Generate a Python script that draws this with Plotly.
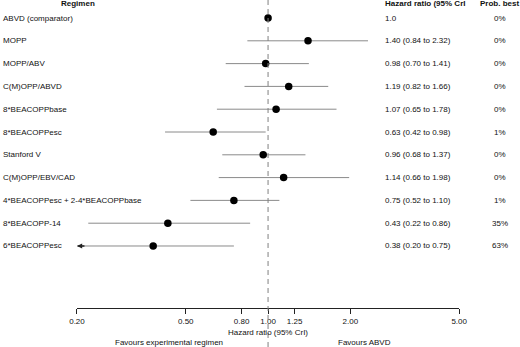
import math
import plotly.graph_objects as go

regimens = ["ABVD (comparator)", "MOPP", "MOPP/ABV", "C(M)OPP/ABVD", "8*BEACOPPbase",
            "8*BEACOPPesc", "Stanford V", "C(M)OPP/EBV/CAD",
            "4*BEACOPPesc + 2-4*BEACOPPbase", "8*BEACOPP-14", "6*BEACOPPesc"]
hr = [1.0, 1.40, 0.98, 1.19, 1.07, 0.63, 0.96, 1.14, 0.75, 0.43, 0.38]
lower = [None, 0.84, 0.70, 0.82, 0.65, 0.42, 0.68, 0.66, 0.52, 0.22, 0.20]
upper = [None, 2.32, 1.41, 1.66, 1.78, 0.98, 1.37, 1.98, 1.10, 0.86, 0.75]
hr_labels = ["1.0", "1.40 (0.84 to 2.32)", "0.98 (0.70 to 1.41)", "1.19 (0.82 to 1.66)",
             "1.07 (0.65 to 1.78)", "0.63 (0.42 to 0.98)", "0.96 (0.68 to 1.37)",
             "1.14 (0.66 to 1.98)", "0.75 (0.52 to 1.10)", "0.43 (0.22 to 0.86)",
             "0.38 (0.20 to 0.75)"]
prob_best = ["0%", "0%", "0%", "0%", "0%", "1%", "0%", "0%", "1%", "35%", "63%"]
arrow_rows = [10]  # lower CI truncated at axis limit
tick_vals = [0.20, 0.50, 0.80, 1.00, 1.25, 2.00, 5.00]
tick_text = ["0.20", "0.50", "0.80", "1.00", "1.25", "2.00", "5.00"]
x_min, x_max = 0.20, 5.00
ref_value = 1.0

FONT = "Liberation Sans, Arial, sans-serif"
rows = list(range(len(regimens)))

# whiskers
wx, wy = [], []
for i in rows:
    if lower[i] is None:
        continue
    wx += [lower[i], upper[i], None]
    wy += [i, i, None]

fig = go.Figure()
fig.add_trace(go.Scatter(x=wx, y=wy, mode="lines",
                         line=dict(color="#8a8a8a", width=1), hoverinfo="skip",
                         showlegend=False))
fig.add_trace(go.Scatter(x=hr, y=rows, mode="markers",
                         marker=dict(color="black", size=7.5), showlegend=False))

fig.add_shape(type="line", x0=ref_value, x1=ref_value, xref="x", y0=0, y1=1, yref="paper",
              line=dict(color="#808080", width=1, dash="5px,4px"))

ann = []
for i in arrow_rows:
    ann.append(dict(x=math.log10(lower[i]), y=i, xref="x", yref="y", ax=9, ay=0,
                    text="", showarrow=True,
                    arrowhead=2, arrowsize=0.8, arrowwidth=1.3, arrowcolor="#222222"))

f = dict(family=FONT, size=8, color="#111111")
fb = dict(family=FONT, size=8, color="#111111", weight="bold")
for i in rows:
    ann.append(dict(x=0.002, xref="paper", y=i, yref="y", text=regimens[i],
                    xanchor="left", yanchor="middle", showarrow=False, font=f))
    ann.append(dict(x=0.7365, xref="paper", y=i, yref="y", text=hr_labels[i],
                    xanchor="left", yanchor="middle", showarrow=False, font=f))
    ann.append(dict(x=0.961, xref="paper", y=i, yref="y", text=prob_best[i],
                    xanchor="center", yanchor="middle", showarrow=False, font=f))

ann.append(dict(x=0.15, xref="paper", y=-0.62, yref="y", text="Regimen",
                xanchor="center", yanchor="middle", showarrow=False, font=fb))
ann.append(dict(x=0.7365, xref="paper", y=-0.62, yref="y", text="Hazard ratio (95% CrI",
                xanchor="left", yanchor="middle", showarrow=False, font=fb))
ann.append(dict(x=0.961, xref="paper", y=-0.62, yref="y", text="Prob. best",
                xanchor="center", yanchor="middle", showarrow=False, font=fb))

ann.append(dict(x=math.log10(ref_value), xref="x", y=0.0432, yref="paper",
                text="Hazard ratio (95% CrI)", showarrow=False, font=f,
                xanchor="center", yanchor="middle"))
ann.append(dict(x=0.325, xref="paper", y=0.0130, yref="paper",
                text="Favours experimental regimen", showarrow=False, font=f,
                xanchor="center", yanchor="middle"))
ann.append(dict(x=0.70, xref="paper", y=0.0130, yref="paper",
                text="Favours ABVD", showarrow=False, font=f,
                xanchor="center", yanchor="middle"))

fig.update_layout(
    width=520, height=347,
    margin=dict(l=0, r=0, t=0, b=0, autoexpand=False),
    plot_bgcolor="white", paper_bgcolor="white",
    font=dict(family=FONT, size=8, color="#111111"),
    annotations=ann,
    xaxis=dict(type="log", range=[math.log10(x_min), math.log10(x_max)],
               domain=[0.148, 0.883],
               tickvals=tick_vals, ticktext=tick_text, ticks="outside",
               ticklen=5, tickcolor="#222222", showline=True, linecolor="#222222",
               linewidth=1, showgrid=False, zeroline=False,
               tickfont=dict(family=FONT, size=8, color="#111111")),
    yaxis=dict(range=[12.72, -0.79], domain=[0.1124, 1], visible=False,
               showgrid=False, zeroline=False),
)

fig.write_html("out.html",
               config={"displayModeBar": False},
               post_script="document.body.style.margin='0px';"
                           "document.body.style.overflow='hidden';")
